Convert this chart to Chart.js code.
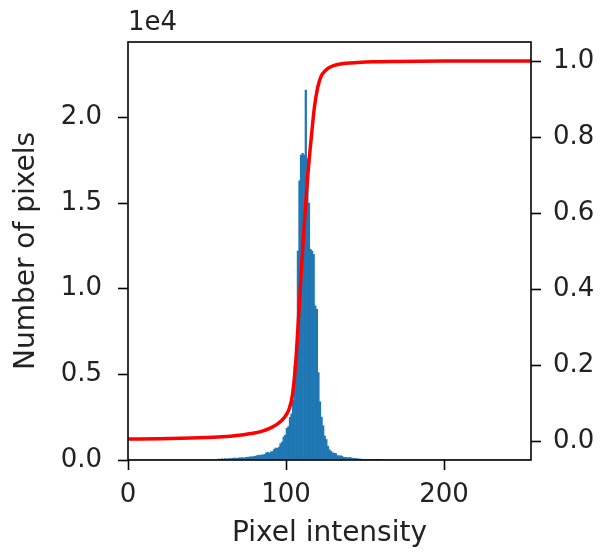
<!DOCTYPE html>
<html>
<head>
<meta charset="utf-8">
<script src="https://cdn.jsdelivr.net/npm/chart.js@4.4.1/dist/chart.umd.min.js"></script>
<style>
  body { margin: 0; background: #fff; }
  #wrap { width: 604px; height: 552px; }
</style>
</head>
<body>
<div id="wrap"><canvas id="histChart" width="604" height="552"></canvas></div>
<script>
// histogram of pixel intensities (counts per intensity 0..255) + cumulative curve

const X_TITLE = "Pixel intensity";
const Y_TITLE = "Number of pixels";
const OFFSET_TEXT = "1e4";

const xTicks = [0, 100, 200];
const yTicks = [0, 5000, 10000, 15000, 20000];
const y2Ticks = [0, 0.2, 0.4, 0.6, 0.8, 1.0];

// counts, index = intensity value
const counts = [
  0, 0, 0, 0, 0, 0, 0, 0, 0, 0, 0, 0, 0, 0, 0, 0,          // 0-15
  0, 0, 0, 0, 0, 0, 0, 0, 0, 0, 0, 0, 0, 0, 0, 0,          // 16-31
  0, 0, 0, 0, 0, 0, 0, 0, 0, 0, 0, 0, 0, 0, 0, 0,          // 32-47
  0, 0, 0, 0, 0, 0, 0, 0, 0, 60, 40, 70, 50, 80, 60, 70,   // 48-63
  90, 80, 100, 120, 90, 110, 130, 120, 140, 110, 150, 160, 170, 190, 180, 200, // 64-79
  220, 250, 280, 260, 300, 290, 330, 420, 450, 400, 480, 500, 620, 700, 680, 750, // 80-95
  950, 1050, 1350, 1450, 1850, 1950, 2500, 2700, 3500, 5500, 6000, 12200, 16300, 17800, 17900, 17800, // 96-111
  21600, 17600, 15000, 12300, 12200, 12000, 9000, 8800, 5100, 3400, 2500, 2000, 1400, 1200, 800, 600, // 112-127
  500, 420, 400, 380, 260, 240, 250, 220, 150, 160, 140, 130, 150, 120, 90, 100, // 128-143
  80, 70, 60, 50, 40, 30, 40, 20, 30, 20, 10, 20, 30, 10, 20, 40, // 144-159
  30, 0, 0, 0, 0, 0, 0, 0, 0, 0, 0, 0, 0, 0, 0, 0,         // 160-175
  0, 0, 0, 0, 0, 0, 0, 0, 0, 0, 0, 0, 0, 0, 0, 0,          // 176-191
  0, 0, 0, 0, 0, 0, 0, 0, 0, 0, 0, 0, 0, 0, 0, 0,          // 192-207
  0, 0, 0, 0, 0, 0, 0, 0, 0, 0, 0, 0, 0, 0, 0, 0,          // 208-223
  0, 0, 0, 0, 0, 0, 0, 0, 0, 0, 0, 0, 0, 0, 0, 0,          // 224-239
  0, 0, 0, 0, 0, 0, 0, 0, 0, 0, 0, 0, 0, 0, 0, 0           // 240-255
];

// cumulative distribution (right axis), read at these intensities
const cdfX = [0, 20, 40, 60, 70, 80, 85, 90, 94, 97, 100, 102, 104, 106, 108, 110,
              112, 114, 116, 118, 120, 122, 125, 128, 132, 138, 145, 155, 170, 200, 255];
const cdfY = [0.005, 0.006, 0.008, 0.011, 0.015, 0.021, 0.026, 0.034, 0.043, 0.053, 0.068, 0.085, 0.12, 0.2, 0.33, 0.47,
              0.6, 0.71, 0.8, 0.88, 0.93, 0.958, 0.975, 0.984, 0.99, 0.994, 0.996, 0.998, 0.999, 1.0, 1.0];

const TEXT = "#222";
const FONT = { family: "DejaVu Sans", size: 26 };
const TITLE_FONT = { family: "DejaVu Sans", size: 28 };

const histData = counts.map((c, i) => ({ x: i + 0.5, y: c }));
const cdfData = cdfX.map((x, i) => ({ x: x, y: cdfY[i] }));

// frame around plot area + matplotlib style offset text
const framePlugin = {
  id: "frame",
  afterDraw(chart) {
    const { ctx, chartArea: a } = chart;
    ctx.save();
    ctx.strokeStyle = "#000";
    ctx.lineWidth = 1.6;
    ctx.strokeRect(a.left, a.top, a.right - a.left, a.bottom - a.top);
    ctx.fillStyle = TEXT;
    ctx.font = `${FONT.size}px ${FONT.family}`;
    ctx.textAlign = "left";
    ctx.textBaseline = "alphabetic";
    ctx.fillText(OFFSET_TEXT, a.left, a.top - 12);
    ctx.restore();
  }
};

const tickGrid = {
  display: true,
  offset: false,
  drawOnChartArea: false,
  drawTicks: true,
  tickLength: 10,
  tickColor: "#000",
  tickWidth: 1.6
};

new Chart(document.getElementById("histChart"), {
  type: "bar",
  data: {
    datasets: [
      {
        type: "line",
        data: cdfData,
        xAxisID: "x",
        yAxisID: "y2",
        borderColor: "#ff0000",
        borderWidth: 3.5,
        pointRadius: 0,
        cubicInterpolationMode: "monotone",
        order: 0
      },
      {
        type: "bar",
        data: histData,
        xAxisID: "x",
        yAxisID: "y",
        backgroundColor: "#1f77b4",
        borderWidth: 0,
        barPercentage: 1,
        categoryPercentage: 1,
        order: 1
      }
    ]
  },
  options: {
    responsive: false,
    animation: false,
    layout: { padding: { top: 42, left: 0, right: 0, bottom: 0 } },
    plugins: { legend: { display: false }, tooltip: { enabled: false } },
    scales: {
      x: {
        type: "linear",
        min: 0,
        max: 255,
        offset: false,
        border: { display: false },
        grid: tickGrid,
        afterBuildTicks: s => { s.ticks = xTicks.map(v => ({ value: v })); },
        afterFit: s => { s.height = 92; },
        ticks: { color: TEXT, font: FONT, padding: 10, maxRotation: 0 },
        title: { display: true, text: X_TITLE, color: TEXT, font: TITLE_FONT, padding: { top: 0, bottom: 1 } }
      },
      y: {
        type: "linear",
        position: "left",
        min: 0,
        max: 24400,
        border: { display: false },
        grid: tickGrid,
        afterBuildTicks: s => { s.ticks = yTicks.map(v => ({ value: v })); },
        afterFit: s => { s.width = 128; },
        ticks: { color: TEXT, font: FONT, padding: 16, callback: v => (v / 10000).toFixed(1) },
        title: { display: true, text: Y_TITLE, color: TEXT, font: TITLE_FONT, padding: { top: 10, bottom: 0 } }
      },
      y2: {
        type: "linear",
        position: "right",
        min: -0.05,
        max: 1.05,
        border: { display: false },
        grid: tickGrid,
        afterBuildTicks: s => { s.ticks = y2Ticks.map(v => ({ value: v })); },
        afterFit: s => { s.width = 73; },
        ticks: { color: TEXT, font: FONT, padding: 12, callback: v => v.toFixed(1) }
      }
    }
  },
  plugins: [framePlugin]
});
</script>
</body>
</html>
